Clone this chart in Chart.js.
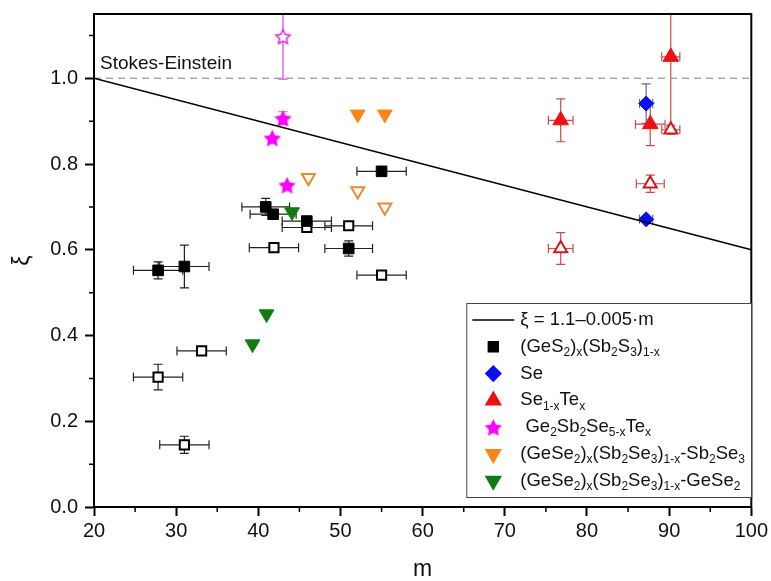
<!DOCTYPE html>
<html>
<head>
<meta charset="utf-8">
<script src="https://cdn.jsdelivr.net/npm/chart.js@4.4.1/dist/chart.umd.min.js"></script>
<style>
    html, body { margin: 0; padding: 0; background: #fff; }
</style>
</head>
<body>
<canvas id="graficoXi" width="771" height="581"></canvas>
<script>
// (GeS2)x(Sb2S3)1-x, filled squares
const gssM = [27.8, 31.0, 40.9, 41.8, 45.9, 51.0, 55.0];
const gssXi = [0.552, 0.561, 0.700, 0.683, 0.667, 0.603, 0.783];
const gssErrM = [3, 3, 2.9, 2.8, 3, 2.9, 3];
const gssErrXi = [0.02, 0.05, 0.02, 0, 0.01, 0.018, 0.01];
// (GeS2)x(Sb2S3)1-x, open squares
const gssOpenM = [27.8, 31.0, 33.1, 41.9, 45.9, 51.0, 55.0];
const gssOpenXi = [0.303, 0.145, 0.364, 0.605, 0.652, 0.656, 0.541];
const gssOpenErrM = [3, 3, 3, 3, 3, 2.9, 3];
const gssOpenErrXi = [0.03, 0.02, 0, 0, 0, 0, 0];
// Se
const seM = [87.2, 87.2];
const seXi = [0.941, 0.671];
const seErrM = [0.8, 0.8];
const seErrXi = [0.046, 0];
// Se1-xTex
const seTeM = [76.8, 87.7, 90.2];
const seTeXi = [0.902, 0.893, 1.05];
const seTeErrM = [1.5, 1.8, 1.1];
const seTeErrXi = [0.05, 0.05, 0.17];
const seTeOpenM = [76.8, 87.7, 90.2];
const seTeOpenXi = [0.603, 0.754, 0.88];
const seTeOpenErrM = [1.5, 1.7, 1.1];
const seTeOpenErrXi = [0.037, 0.02, 0.01];
// Ge2Sb2Se5-xTex
const gstM = [41.7, 43.0, 43.5];
const gstXi = [0.861, 0.907, 0.751];
const gstErrXi = [0, 0.015, 0];
const gstOpenM = [43.0];
const gstOpenXi = [1.098];
const gstOpenErrXi = [0.1];
// (GeSe2)x(Sb2Se3)1-x - Sb2Se3 side
const sbM = [52.1, 55.4];
const sbXi = [0.916, 0.916];
const sbOpenM = [46.1, 52.1, 55.4];
const sbOpenXi = [0.768, 0.737, 0.699];
// (GeSe2)x(Sb2Se3)1-x - GeSe2 side
const geM = [39.3, 41.0, 44.1];
const geXi = [0.38, 0.45, 0.688];
// fit line and Stokes-Einstein limit
const fitM = [20, 100];
const fitXi = [1.0, 0.6];
const seLimitXi = [1.0, 1.0];

const xTicks = [20, 30, 40, 50, 60, 70, 80, 90, 100];
const yTicks = [0.0, 0.2, 0.4, 0.6, 0.8, 1.0];

const FONT = 'Arial, "Liberation Sans", sans-serif';

function pts(xs, ys) {
    return xs.map((v, i) => ({ x: v, y: ys[i] }));
}

function makeStar(fill, stroke, r) {
    const c = document.createElement('canvas');
    const s = Math.ceil(r * 2 + 4);
    c.width = s; c.height = s;
    const g = c.getContext('2d');
    g.beginPath();
    for (let i = 0; i < 10; i++) {
        const rr = i % 2 ? r * 0.5 : r;
        const a = -Math.PI / 2 + i * Math.PI / 5;
        g.lineTo(s / 2 + rr * Math.cos(a), s / 2 + 1 + rr * Math.sin(a));
    }
    g.closePath();
    g.fillStyle = fill; g.fill();
    g.lineWidth = 1.5; g.strokeStyle = stroke; g.stroke();
    return c;
}

const starFilled = makeStar('#ff00ff', '#ff00ff', 7.5);
const starOpen = makeStar('#ffffff', '#e020e0', 7.5);

const datasets = [
    {
        label: 'fit', data: pts(fitM, fitXi), showLine: true, pointRadius: 0,
        borderColor: '#000', borderWidth: 1.5
    },
    {
        label: 'Stokes-Einstein', data: pts(fitM, seLimitXi), showLine: true, pointRadius: 0,
        borderColor: '#aaaaaa', borderWidth: 1.5, borderDash: [7, 5]
    },
    {
        label: 'gss', data: pts(gssM, gssXi), errX: gssErrM, errY: gssErrXi, errColor: '#222',
        pointStyle: 'rect', pointRadius: 7.5, backgroundColor: '#000', borderColor: '#000', borderWidth: 1
    },
    {
        label: 'gssOpen', data: pts(gssOpenM, gssOpenXi), errX: gssOpenErrM, errY: gssOpenErrXi, errColor: '#222',
        pointStyle: 'rect', pointRadius: 6.5, backgroundColor: '#fff', borderColor: '#000', borderWidth: 2
    },
    {
        label: 'se', data: pts(seM, seXi), errX: seErrM, errY: seErrXi, errColor: '#5a6aa8',
        pointStyle: 'rectRot', pointRadius: 7.5, backgroundColor: '#0a10f0', borderColor: '#0a10f0', borderWidth: 1
    },
    {
        label: 'seTeOpen', data: pts(seTeOpenM, seTeOpenXi), errX: seTeOpenErrM, errY: seTeOpenErrXi, errColor: '#d04848',
        pointStyle: 'triangle', pointRadius: 7.5, backgroundColor: '#fff', borderColor: '#d01a1a', borderWidth: 2
    },
    {
        label: 'seTe', data: pts(seTeM, seTeXi), errX: seTeErrM, errY: seTeErrXi, errColor: '#d04848',
        pointStyle: 'triangle', pointRadius: 9, backgroundColor: '#ee1111', borderColor: '#ee1111', borderWidth: 1
    },
    {
        label: 'gst', data: pts(gstM, gstXi), errY: gstErrXi, errColor: '#e040e0',
        pointStyle: starFilled
    },
    {
        label: 'gstOpen', data: pts(gstOpenM, gstOpenXi), errY: gstOpenErrXi, errColor: '#e040e0',
        pointStyle: starOpen
    },
    {
        label: 'sb', data: pts(sbM, sbXi),
        pointStyle: 'triangle', rotation: 180, pointRadius: 8.5, backgroundColor: '#ff8418', borderColor: '#ff8418', borderWidth: 1
    },
    {
        label: 'sbOpen', data: pts(sbOpenM, sbOpenXi),
        pointStyle: 'triangle', rotation: 180, pointRadius: 7.5, backgroundColor: '#fff', borderColor: '#e88a30', borderWidth: 2
    },
    {
        label: 'ge', data: pts(geM, geXi),
        pointStyle: 'triangle', rotation: 180, pointRadius: 8.5, backgroundColor: '#137a13', borderColor: '#137a13', borderWidth: 1
    }
];

const legendRows = [
    { text: 'ξ = 1.1–0.005·m', line: true },
    { text: '(GeS_2)_x(Sb_2S_3)_{1-x}', style: 'rect', r: 7, fill: '#000' },
    { text: 'Se', style: 'rectRot', r: 7.5, fill: '#0a10f0' },
    { text: 'Se_{1-x}Te_x', style: 'triangle', r: 8.5, fill: '#ee1111' },
    { text: ' Ge_2Sb_2Se_{5-x}Te_x', style: starFilled, r: 7, fill: '#ff00ff' },
    { text: '(GeSe_2)_x(Sb_2Se_3)_{1-x}-Sb_2Se_3', style: 'triangle', rot: 180, r: 8.5, fill: '#ff8418' },
    { text: '(GeSe_2)_x(Sb_2Se_3)_{1-x}-GeSe_2', style: 'triangle', rot: 180, r: 8.5, fill: '#137a13' }
];

function drawRich(ctx, markup, x, y, size) {
    const parts = markup.split(/(_\{[^}]*\}|_.)/).filter(s => s);
    parts.forEach(s => {
        let sub = false, t = s;
        if (s[0] === '_') {
            sub = true;
            t = s[1] === '{' ? s.slice(2, -1) : s.slice(1);
        }
        ctx.font = (sub ? Math.round(size * 0.65) : size) + 'px ' + FONT;
        ctx.fillText(t, x, sub ? y + size * 0.32 : y);
        x += ctx.measureText(t).width;
    });
}

const errorBars = {
    id: 'errorBars',
    beforeDatasetsDraw(chart) {
        const { ctx, chartArea, scales: { x, y } } = chart;
        ctx.save();
        ctx.beginPath();
        ctx.rect(chartArea.left, chartArea.top, chartArea.width, chartArea.height);
        ctx.clip();
        chart.data.datasets.forEach(ds => {
            if (!ds.errX && !ds.errY) return;
            ctx.strokeStyle = ds.errColor;
            ctx.lineWidth = 1.2;
            ds.data.forEach((p, i) => {
                const px = x.getPixelForValue(p.x), py = y.getPixelForValue(p.y);
                const dx = ds.errX ? ds.errX[i] : 0, dy = ds.errY ? ds.errY[i] : 0;
                const cap = 4.5;
                ctx.beginPath();
                if (dx) {
                    const x1 = x.getPixelForValue(p.x - dx), x2 = x.getPixelForValue(p.x + dx);
                    ctx.moveTo(x1, py); ctx.lineTo(x2, py);
                    ctx.moveTo(x1, py - cap); ctx.lineTo(x1, py + cap);
                    ctx.moveTo(x2, py - cap); ctx.lineTo(x2, py + cap);
                }
                if (dy) {
                    const y1 = y.getPixelForValue(p.y - dy), y2 = y.getPixelForValue(p.y + dy);
                    ctx.moveTo(px, y1); ctx.lineTo(px, y2);
                    ctx.moveTo(px - cap, y1); ctx.lineTo(px + cap, y1);
                    ctx.moveTo(px - cap, y2); ctx.lineTo(px + cap, y2);
                }
                ctx.stroke();
            });
        });
        ctx.restore();
    }
};

const decor = {
    id: 'decor',
    beforeDatasetsDraw(chart) {
        const { ctx, chartArea: a, scales: { x, y } } = chart;
        ctx.save();
        // frame on top and right
        ctx.strokeStyle = '#000';
        ctx.lineWidth = 2;
        ctx.strokeRect(a.left, a.top, a.width, a.height);
        // minor ticks
        ctx.lineWidth = 1.5;
        ctx.beginPath();
        for (let v = 25; v < 100; v += 10) {
            const px = x.getPixelForValue(v);
            ctx.moveTo(px, a.bottom); ctx.lineTo(px, a.bottom + 5);
        }
        for (let v = 0.1; v < 1.15; v += 0.2) {
            const py = y.getPixelForValue(v);
            ctx.moveTo(a.left, py); ctx.lineTo(a.left - 5, py);
        }
        ctx.stroke();
        // Stokes-Einstein label
        ctx.fillStyle = '#111';
        ctx.textBaseline = 'middle';
        ctx.font = '19px ' + FONT;
        ctx.fillText('Stokes-Einstein', a.left + 6, y.getPixelForValue(1.0) - 15);
        ctx.restore();
    },
    afterDraw(chart) {
        const { ctx, chartArea: a } = chart;
        const bx = a.right - 285, by = a.bottom - 204, bw = 285, bh = 194;
        ctx.save();
        ctx.fillStyle = '#fff';
        ctx.fillRect(bx, by, bw, bh);
        ctx.strokeStyle = '#444';
        ctx.lineWidth = 1;
        ctx.strokeRect(bx + 0.5, by + 0.5, bw, bh);
        ctx.textBaseline = 'middle';
        legendRows.forEach((row, i) => {
            const cy = by + 17 + i * 26.8;
            if (row.line) {
                ctx.strokeStyle = '#000';
                ctx.lineWidth = 1.5;
                ctx.beginPath();
                ctx.moveTo(bx + 6, cy); ctx.lineTo(bx + 48, cy);
                ctx.stroke();
            } else {
                ctx.fillStyle = row.fill;
                ctx.strokeStyle = row.fill;
                Chart.helpers.drawPoint(ctx, {
                    pointStyle: row.style, radius: row.r, rotation: row.rot || 0, borderWidth: 1
                }, bx + 27, cy);
            }
            ctx.fillStyle = '#111';
            drawRich(ctx, row.text, bx + 54, cy, 18.5);
        });
        ctx.restore();
    }
};

const ctx = document.getElementById('graficoXi').getContext('2d');
const graficoXi = new Chart(ctx, {
    type: 'scatter',
    data: { datasets: datasets },
    plugins: [errorBars, decor],
    options: {
        responsive: false,
        animation: false,
        events: [],
        layout: { padding: { top: 14, right: 19, left: 0, bottom: 0 } },
        plugins: {
            legend: { display: false },
            tooltip: { enabled: false }
        },
        scales: {
            x: {
                type: 'linear',
                min: xTicks[0],
                max: xTicks[xTicks.length - 1],
                afterFit: s => { s.height = 74; },
                afterBuildTicks: s => { s.ticks = xTicks.map(v => ({ value: v })); },
                ticks: { color: '#111', font: { size: 20, family: FONT }, padding: 3, maxRotation: 0 },
                grid: { display: true, drawOnChartArea: false, tickLength: 9, tickWidth: 2, tickColor: '#000', color: '#000' },
                border: { color: '#000', width: 2 },
                title: { display: true, text: 'm', color: '#111', font: { size: 23, family: FONT, lineHeight: 1 }, padding: { top: 0, bottom: 0 } }
            },
            y: {
                type: 'linear',
                min: 0,
                max: 1.15,
                afterFit: s => { s.width = 94; s.paddingTop = 0; s.paddingBottom = 0; },
                afterBuildTicks: s => { s.ticks = yTicks.map(v => ({ value: v })); },
                ticks: { color: '#111', font: { size: 20, family: FONT }, padding: 7, callback: v => v.toFixed(1) },
                grid: { display: true, drawOnChartArea: false, tickLength: 9, tickWidth: 2, tickColor: '#000', color: '#000' },
                border: { color: '#000', width: 2 },
                title: { display: true, text: 'ξ', color: '#111', font: { size: 23, family: FONT, lineHeight: 1 }, padding: { top: 11, bottom: 0 } }
            }
        }
    }
});
</script>
</body>
</html>
